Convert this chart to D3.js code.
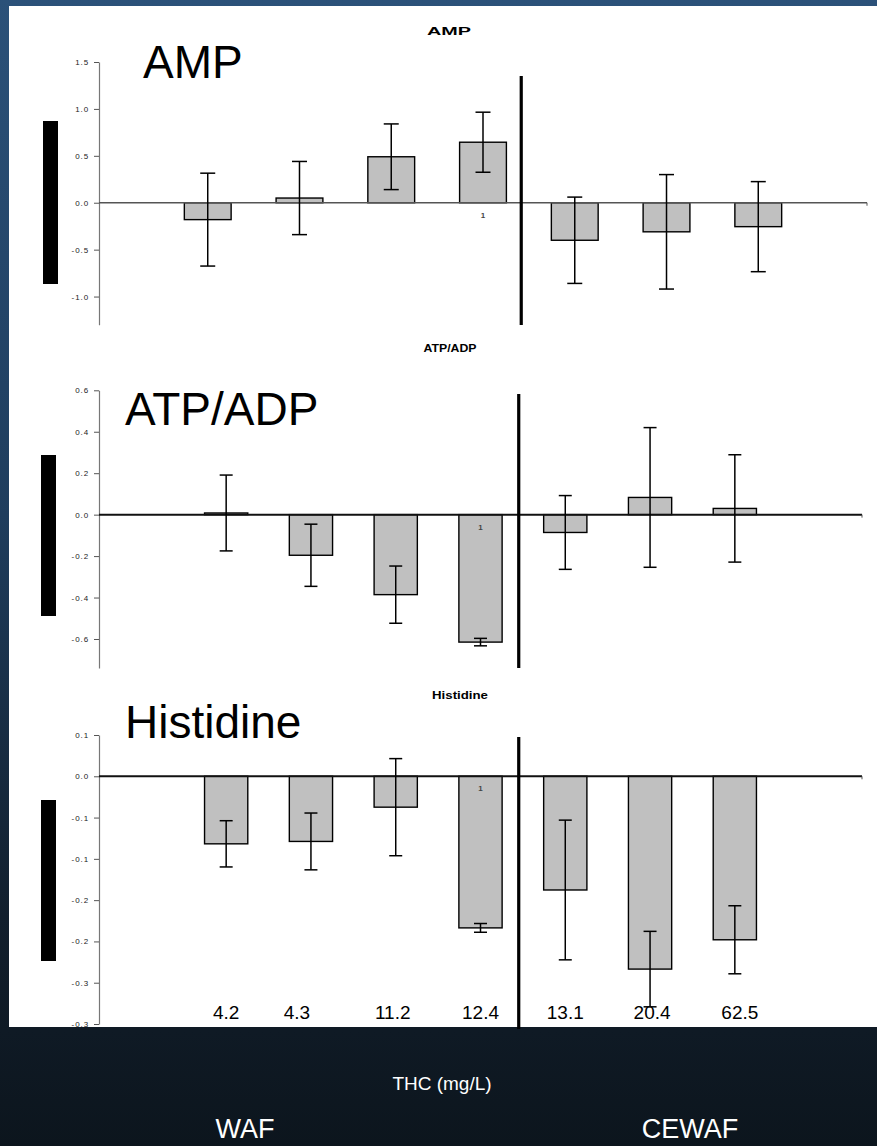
<!DOCTYPE html>
<html>
<head>
<meta charset="utf-8">
<script src="https://cdn.jsdelivr.net/npm/d3@7"></script>
<style>
  html, body { margin: 0; padding: 0; background: #0d1822; }
  svg { display: block; }
  text { font-family: "Liberation Sans", Arial, sans-serif; }
</style>
</head>
<body>
<script>
// ---------- DATA ----------
const categories = ["4.2", "4.3", "11.2", "12.4", "13.1", "20.4", "62.5"];

const ampMean = [-0.18, 0.05, 0.49, 0.645, -0.40, -0.31, -0.255];
const ampErr  = [0.495, 0.39, 0.35, 0.32, 0.46, 0.61, 0.48];

const atpMean = [0.008, -0.196, -0.386, -0.615, -0.086, 0.083, 0.030];
const atpErr  = [0.183, 0.15, 0.138, 0.018, 0.178, 0.337, 0.259];

const hisMean = [-0.0818, -0.0789, -0.0374, -0.1836, -0.1377, -0.2335, -0.198];
const hisErr  = [0.028, 0.0344, 0.0588, 0.0053, 0.0846, 0.0457, 0.0412];

const ampTicks = [-1.0, -0.5, 0.0, 0.5, 1.0, 1.5];
const ampTickLabels = ["-1.0", "-0.5", "0.0", "0.5", "1.0", "1.5"];
const atpTicks = [-0.6, -0.4, -0.2, 0.0, 0.2, 0.4, 0.6];
const atpTickLabels = ["-0.6", "-0.4", "-0.2", "0.0", "0.2", "0.4", "0.6"];
const hisTicks = [-0.3, -0.25, -0.2, -0.15, -0.1, -0.05, 0.0, 0.05];
const hisTickLabels = ["-0.3", "-0.3", "-0.2", "-0.2", "-0.1", "-0.1", "0.0", "0.1"];

const panelTitles = ["AMP", "ATP/ADP", "Histidine"];
const axisTitle = "THC (mg/L)";
const groupLabels = ["WAF", "CEWAF"];
const flagLabel = "1";
const flagIndex = 3;

// ---------- LAYOUT ----------
const W = 877, H = 1146;
const svg = d3.select("body").append("svg").attr("width", W).attr("height", H);

const defs = svg.append("defs");
const grad = defs.append("linearGradient").attr("id", "bg").attr("x1", 0).attr("y1", 0).attr("x2", 0).attr("y2", 1);
grad.append("stop").attr("offset", "0%").attr("stop-color", "#2b5179");
grad.append("stop").attr("offset", "45%").attr("stop-color", "#1f3d5d");
grad.append("stop").attr("offset", "80%").attr("stop-color", "#121f2d");
grad.append("stop").attr("offset", "100%").attr("stop-color", "#0c151d");
svg.append("rect").attr("width", W).attr("height", H).attr("fill", "url(#bg)");
// white slide area
svg.append("rect").attr("x", 9).attr("y", 6).attr("width", W - 9).attr("height", 1021).attr("fill", "#ffffff");

const panels = [
  { title: panelTitles[0], mean: ampMean, err: ampErr, ticks: ampTicks, labels: ampTickLabels,
    domain: [-1.3, 1.5], yRange: [324.7, 62], xRange: [99, 867], pOuter: 0.93,
    sepFrac: 0.33, sepTop: 76, sepBottom: 325, zeroColor: "#555", zeroW: 1.3,
    small: [449, 35], smallLen: 44, big: [143, 78], block: [43, 121, 15, 163], cap: 15 },
  { title: panelTitles[1], mean: atpMean, err: atpErr, ticks: atpTicks, labels: atpTickLabels,
    domain: [-0.74, 0.6], yRange: [668, 390.3], xRange: [99, 862], pOuter: 1.245,
    sepFrac: 0.40, sepTop: 394, sepBottom: 668, zeroColor: "#111", zeroW: 2,
    small: [450, 352], smallLen: 53, big: [125, 425], block: [41, 455, 15, 161], cap: 13 },
  { title: panelTitles[2], mean: hisMean, err: hisErr, ticks: hisTicks, labels: hisTickLabels,
    domain: [-0.3, 0.05], yRange: [1024, 735], xRange: [99, 862], pOuter: 1.245,
    sepFrac: 0.40, sepTop: 737, sepBottom: 1029, zeroColor: "#111", zeroW: 2,
    small: [460, 699], smallLen: 56, big: [125, 738], block: [41, 800, 15, 161], cap: 13 }
];

let lastX = null;
panels.forEach(p => {
  const g = svg.append("g");
  const x = d3.scaleBand().domain(categories).range(p.xRange)
    .paddingInner(0.49).paddingOuter(p.pOuter);
  const y = d3.scaleLinear().domain(p.domain).range(p.yRange);
  lastX = x;

  // decorative black block on the left
  g.append("rect").attr("x", p.block[0]).attr("y", p.block[1])
    .attr("width", p.block[2]).attr("height", p.block[3]).attr("fill", "#000");

  // small bold title
  g.append("text").attr("x", p.small[0] - p.smallLen / 2).attr("y", p.small[1])
    .attr("font-size", 11).attr("font-weight", "bold")
    .attr("textLength", p.smallLen).attr("lengthAdjust", "spacingAndGlyphs")
    .attr("fill", "#000").text(p.title);

  // big title
  g.append("text").attr("x", p.big[0]).attr("y", p.big[1])
    .attr("font-size", 46).attr("fill", "#000").text(p.title);

  // y axis
  const ax = g.append("g").attr("transform", `translate(${p.xRange[0]},0)`)
    .call(d3.axisLeft(y).tickValues(p.ticks).tickFormat((d, i) => p.labels[i])
      .tickSize(5).tickSizeOuter(0).tickPadding(5));
  ax.select(".domain").attr("stroke", "#777").attr("stroke-width", 1.2);
  ax.selectAll(".tick line").attr("stroke", "#555").attr("stroke-width", 1);
  ax.selectAll(".tick text").attr("font-size", 8).attr("letter-spacing", 0.9)
    .attr("fill", "#222").attr("font-family", "Liberation Sans, Arial, sans-serif");

  // bars
  g.selectAll("rect.bar").data(categories).join("rect").attr("class", "bar")
    .attr("x", d => x(d))
    .attr("width", x.bandwidth())
    .attr("y", (d, i) => y(Math.max(0, p.mean[i])))
    .attr("height", (d, i) => Math.abs(y(p.mean[i]) - y(0)))
    .attr("fill", "#c0c0c0").attr("stroke", "#000").attr("stroke-width", 1.4);

  // zero line
  g.append("line").attr("x1", p.xRange[0]).attr("x2", p.xRange[1])
    .attr("y1", y(0)).attr("y2", y(0))
    .attr("stroke", p.zeroColor).attr("stroke-width", p.zeroW);
  g.append("line").attr("x1", p.xRange[1]).attr("x2", p.xRange[1])
    .attr("y1", y(0)).attr("y2", y(0) + 3).attr("stroke", "#555").attr("stroke-width", 1);

  // error bars
  const eb = g.selectAll("g.err").data(categories).join("g").attr("class", "err");
  eb.append("line")
    .attr("x1", d => x(d) + x.bandwidth() / 2).attr("x2", d => x(d) + x.bandwidth() / 2)
    .attr("y1", (d, i) => y(p.mean[i] + p.err[i])).attr("y2", (d, i) => y(p.mean[i] - p.err[i]))
    .attr("stroke", "#000").attr("stroke-width", 1.5);
  [1, -1].forEach(s => {
    eb.append("line")
      .attr("x1", d => x(d) + x.bandwidth() / 2 - p.cap / 2)
      .attr("x2", d => x(d) + x.bandwidth() / 2 + p.cap / 2)
      .attr("y1", (d, i) => y(p.mean[i] + s * p.err[i]))
      .attr("y2", (d, i) => y(p.mean[i] + s * p.err[i]))
      .attr("stroke", "#000").attr("stroke-width", 1.5);
  });

  // flag label "1"
  g.append("text").attr("x", x(categories[flagIndex]) + x.bandwidth() / 2)
    .attr("y", y(0) + 15).attr("text-anchor", "middle")
    .attr("font-size", 8).attr("font-weight", "bold").attr("fill", "#444").text(flagLabel);

  // WAF / CEWAF separator
  const sx = x(categories[3]) + x.bandwidth() + (x.step() - x.bandwidth()) * p.sepFrac;
  g.append("line").attr("x1", sx).attr("x2", sx).attr("y1", p.sepTop).attr("y2", p.sepBottom)
    .attr("stroke", "#000").attr("stroke-width", 3.2);
});

// category labels at the bottom
const labelDx = [0, -14, -3, 0, 0, 2, 5];
svg.selectAll("text.cat").data(categories).join("text").attr("class", "cat")
  .attr("x", (d, i) => lastX(d) + lastX.bandwidth() / 2 + labelDx[i])
  .attr("y", 1019).attr("text-anchor", "middle")
  .attr("font-size", 19).attr("fill", "#000").text(d => d);

// axis title and group labels
svg.append("text").attr("x", 442).attr("y", 1090).attr("text-anchor", "middle")
  .attr("font-size", 19).attr("fill", "#fff").text(axisTitle);
svg.append("text").attr("x", 245).attr("y", 1138).attr("text-anchor", "middle")
  .attr("font-size", 27).attr("fill", "#fff").text(groupLabels[0]);
svg.append("text").attr("x", 690).attr("y", 1138).attr("text-anchor", "middle")
  .attr("font-size", 27).attr("fill", "#fff").text(groupLabels[1]);
</script>
</body>
</html>
